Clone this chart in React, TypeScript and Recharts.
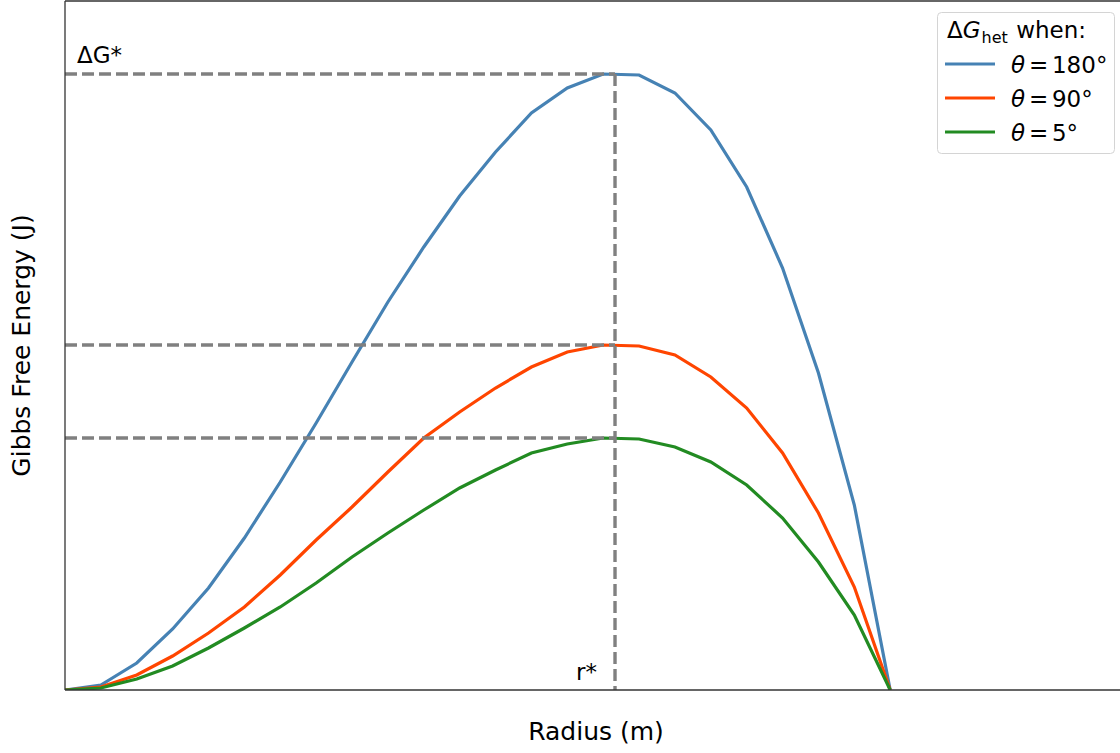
import React from 'react';
import { LineChart, Line, XAxis, YAxis, ReferenceLine, ReferenceDot, Legend } from 'recharts';

const radius = [0, 1, 2, 3, 4, 5, 6, 7, 8, 9, 10, 11, 12, 13, 14, 15, 16, 17, 18, 19, 20, 21, 22, 23];
const theta180 = [0, 5, 27, 61, 102, 152, 208, 267, 328, 388, 443, 494, 538, 577, 602, 616, 615, 597, 560, 503, 422, 317, 185, 0];
const theta90 = [0, 3, 15, 34, 57, 83, 115, 150, 183, 218, 252, 278, 302, 323, 338, 345, 344, 335, 313, 282, 237, 177, 103, 0];
const theta5 = [0, 2, 11, 24, 42, 62, 83, 107, 133, 157, 180, 202, 220, 237, 246, 252, 251, 243, 228, 205, 172, 128, 75, 0];

const peakValues = [616, 345, 252];
const rStar = 15.33;
const seriesLabels = ['180°', '90°', '5°'];
const seriesColors = ['#4682b4', '#ff4500', '#228b22'];

const data = radius.map((r, i) => ({ r, a: theta180[i], b: theta90[i], c: theta5[i] }));

const FONT = '"DejaVu Sans", sans-serif';
const SPINE = '#333';
const DASH = '#808080';

const YLabel = (props: any) => {
  const vb = props && props.viewBox ? props.viewBox : { x: 0, y: 1, width: 65, height: 689 };
  const cx = vb.x + 29.5;
  const cy = vb.y + vb.height / 2;
  return (
    <text x={cx} y={cy} transform={`rotate(-90 ${cx} ${cy})`} textAnchor="middle" fontSize={25} fontFamily={FONT} fill="#000">
      Gibbs Free Energy (J)
    </text>
  );
};

const LegendBox = () => (
  <svg width={182} height={146} style={{ display: 'block', overflow: 'visible' }}>
    <rect x={1.5} y={1.5} width={177} height={141} rx={4} ry={4} fill="#fff" fillOpacity={0.8} stroke="#d4d4d4" strokeWidth={1} />
    <text x={11} y={27} fontSize={23} fontFamily={FONT} fill="#000">
      <tspan>Δ</tspan>
      <tspan fontStyle="italic">G</tspan>
      <tspan fontSize={16} dy={5} dx={1}>het</tspan>
      <tspan dy={-5} dx={1}> when:</tspan>
    </text>
    {seriesLabels.map((lab, i) => (
      <g key={lab}>
        <line x1={9} x2={59} y1={53 + i * 34} y2={53 + i * 34} stroke={seriesColors[i]} strokeWidth={3.2} />
        <text x={75} y={62 + i * 34} fontSize={23} fontFamily={FONT} fill="#000" style={{ wordSpacing: '-3.5px' }}>
          <tspan fontStyle="italic">θ</tspan>
          <tspan> = {lab}</tspan>
        </text>
      </g>
    ))}
  </svg>
);

export default function App() {
  return (
    <div style={{ position: 'fixed', left: 0, top: 0, width: 1120, height: 753, overflow: 'hidden', background: '#fff', fontFamily: FONT }}>
      <LineChart width={1135} height={753} data={data} margin={{ top: 1, right: 8, bottom: 0, left: 0 }}>
        <XAxis
          dataKey="r"
          type="number"
          domain={[0, 29.6]}
          allowDataOverflow
          tick={false}
          tickLine={false}
          height={63}
          axisLine={{ stroke: SPINE, strokeWidth: 1.3 }}
          label={{ value: 'Radius (m)', position: 'insideBottom', offset: 13, style: { fontSize: 25, fill: '#000', fontFamily: FONT } }}
        />
        <YAxis
          type="number"
          domain={[0, 689]}
          allowDataOverflow
          tick={false}
          tickLine={false}
          width={65}
          axisLine={{ stroke: SPINE, strokeWidth: 1.3 }}
          label={{ content: YLabel }}
        />
        <ReferenceLine y={689} stroke={SPINE} strokeWidth={1.3} />
        <Line type="linear" dataKey="a" name="θ = 180°" stroke={seriesColors[0]} strokeWidth={3.2} dot={false} activeDot={false} isAnimationActive={false} />
        <Line type="linear" dataKey="b" name="θ = 90°" stroke={seriesColors[1]} strokeWidth={3.2} dot={false} activeDot={false} isAnimationActive={false} />
        <Line type="linear" dataKey="c" name="θ = 5°" stroke={seriesColors[2]} strokeWidth={3.2} dot={false} activeDot={false} isAnimationActive={false} />
        {peakValues.map((p) => (
          <ReferenceLine
            key={p}
            segment={[{ x: 0, y: p }, { x: rStar, y: p }]}
            stroke={DASH}
            strokeWidth={3.4}
            strokeDasharray="12 5"
          />
        ))}
        <ReferenceLine
          segment={[{ x: rStar, y: peakValues[0] }, { x: rStar, y: 0 }]}
          stroke={DASH}
          strokeWidth={3.4}
          strokeDasharray="12 5"
        />
        <ReferenceDot
          x={0.335}
          y={627}
          r={0}
          shape={(p: any) => (
            <text x={p.cx} y={p.cy} fontSize={23} fontFamily={FONT} fill="#000" textAnchor="start">ΔG*</text>
          )}
        />
        <ReferenceDot
          x={14.83}
          y={10}
          r={0}
          shape={(p: any) => (
            <text x={p.cx} y={p.cy} fontSize={23} fontFamily={FONT} fill="#000" textAnchor="end">r*</text>
          )}
        />
        <Legend
          layout="vertical"
          align="center"
          verticalAlign="middle"
          content={() => <LegendBox />}
          wrapperStyle={{ left: 936, top: 11, width: 182, height: 146, right: 'auto', bottom: 'auto' }}
        />
      </LineChart>
    </div>
  );
}
